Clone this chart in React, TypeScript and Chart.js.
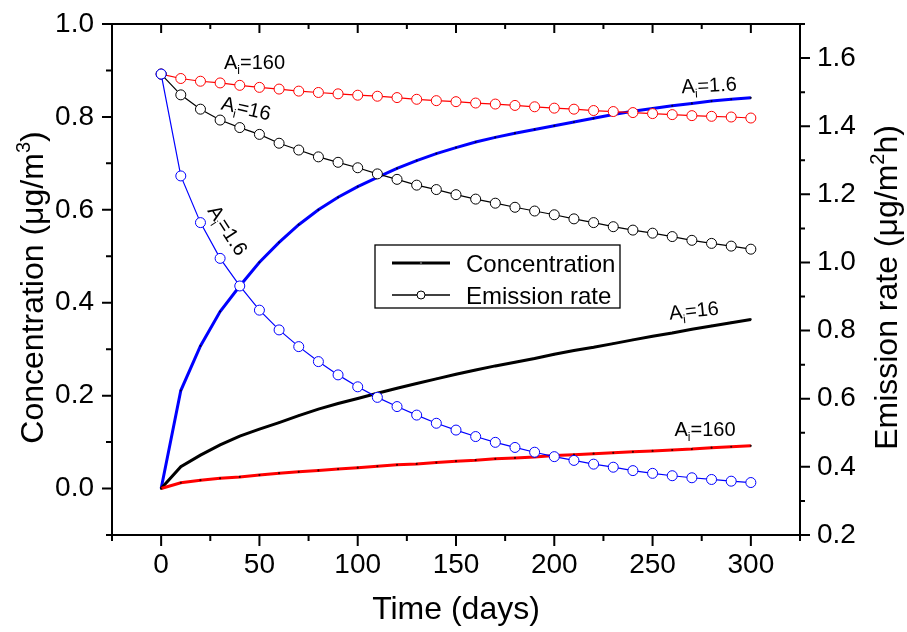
import React, { useEffect, useRef } from 'react';
import { Chart, registerables } from 'chart.js';

Chart.register(...registerables);

const FONT = '"Liberation Sans", Arial, Helvetica, sans-serif';

// ---------- data ----------
const days = [0, 10, 20, 30, 40, 50, 60, 70, 80, 90, 100, 110, 120, 130, 140, 150, 160, 170, 180, 190, 200, 210, 220, 230, 240, 250, 260, 270, 280, 290, 300];

// Concentration (µg/m3), left axis
const concA1_6 = [0, 0.211, 0.307, 0.381, 0.436, 0.487, 0.530, 0.568, 0.600, 0.627, 0.650, 0.670, 0.689, 0.706, 0.721, 0.734, 0.746, 0.756, 0.765, 0.773, 0.781, 0.789, 0.797, 0.805, 0.812, 0.818, 0.824, 0.829, 0.834, 0.838, 0.841];
const concA16 = [0, 0.047, 0.072, 0.094, 0.113, 0.128, 0.142, 0.157, 0.171, 0.183, 0.194, 0.205, 0.216, 0.226, 0.236, 0.246, 0.255, 0.264, 0.272, 0.280, 0.289, 0.297, 0.304, 0.312, 0.320, 0.328, 0.335, 0.343, 0.350, 0.357, 0.364];
const concA160 = [0, 0.0125, 0.018, 0.022, 0.025, 0.029, 0.033, 0.036, 0.039, 0.042, 0.045, 0.048, 0.051, 0.053, 0.056, 0.059, 0.061, 0.064, 0.066, 0.068, 0.071, 0.073, 0.075, 0.077, 0.079, 0.081, 0.083, 0.085, 0.088, 0.090, 0.092];

// Emission rate (µg/m2h), right axis
const emisA1_6 = [1.553, 1.254, 1.117, 1.012, 0.931, 0.860, 0.802, 0.753, 0.709, 0.670, 0.635, 0.604, 0.577, 0.552, 0.528, 0.508, 0.489, 0.472, 0.457, 0.443, 0.430, 0.419, 0.408, 0.399, 0.389, 0.381, 0.374, 0.368, 0.363, 0.358, 0.354];
const emisA16 = [1.553, 1.492, 1.450, 1.418, 1.396, 1.376, 1.350, 1.330, 1.310, 1.294, 1.278, 1.260, 1.244, 1.227, 1.214, 1.199, 1.186, 1.174, 1.162, 1.151, 1.140, 1.128, 1.117, 1.105, 1.095, 1.086, 1.076, 1.065, 1.056, 1.048, 1.039];
const emisA160 = [1.553, 1.540, 1.532, 1.527, 1.520, 1.514, 1.509, 1.503, 1.499, 1.495, 1.491, 1.488, 1.484, 1.479, 1.475, 1.472, 1.468, 1.465, 1.461, 1.457, 1.453, 1.450, 1.446, 1.443, 1.440, 1.437, 1.434, 1.431, 1.429, 1.427, 1.424];

// axis ranges / tick labels
const xRange = [-25, 325];
const xLabels = [0, 50, 100, 150, 200, 250, 300];
const yRange = [-0.1, 1.0];
const yLabels = ['0.0', '0.2', '0.4', '0.6', '0.8', '1.0'];
const y2Range = [0.2, 1.7];
const y2Labels = ['0.2', '0.4', '0.6', '0.8', '1.0', '1.2', '1.4', '1.6'];

// curve annotations: text after "A_i", anchor in data units
const annotations = [
  { text: '=160', axis: 'y2', day: 47.5, level: 1.587, angle: 0 },
  { text: '=16', axis: 'y2', day: 43.3, level: 1.453, angle: 13 },
  { text: '=1.6', axis: 'y2', day: 34.0, level: 1.095, angle: 57 },
  { text: '=1.6', axis: 'y', day: 278.7, level: 0.869, angle: -3 },
  { text: '=16', axis: 'y', day: 271.0, level: 0.384, angle: -6 },
  { text: '=160', axis: 'y', day: 276.7, level: 0.129, angle: 0 },
];

const pts = (arr: number[]) => days.map((d, i) => ({ x: d, y: arr[i] }));

type Seg = { t: string; size: number; dy: number };

function drawRich(ctx: CanvasRenderingContext2D, segs: Seg[], x: number, y: number, angleDeg: number, vShift: number) {
  ctx.save();
  ctx.translate(x, y);
  ctx.rotate((angleDeg * Math.PI) / 180);
  let total = 0;
  const widths = segs.map((s) => {
    ctx.font = `${s.size}px ${FONT}`;
    const w = ctx.measureText(s.t).width;
    total += w;
    return w;
  });
  let cx = -total / 2;
  ctx.textAlign = 'left';
  ctx.textBaseline = 'alphabetic';
  ctx.fillStyle = '#000';
  segs.forEach((s, i) => {
    ctx.font = `${s.size}px ${FONT}`;
    ctx.fillText(s.t, cx, s.dy + vShift);
    cx += widths[i];
  });
  ctx.restore();
}

const isMajorX = (v: number) => xLabels.includes(Math.round(v));
const yLabelOf = (v: number, labels: string[]) => {
  const s = (Math.round(v * 10) / 10).toFixed(1);
  return labels.includes(s) ? s : '';
};

const decor = {
  id: 'decor',
  afterDatasetsDraw(chart: any) {
    const { ctx, chartArea: a, scales } = chart;
    const xs = scales.x, ys = scales.y, y2s = scales.y2;
    ctx.save();
    ctx.strokeStyle = '#000';
    ctx.lineWidth = 2;
    ctx.strokeRect(a.left, a.top, a.right - a.left, a.bottom - a.top);
    ctx.beginPath();
    xs.ticks.forEach((t: any) => {
      const px = xs.getPixelForValue(t.value);
      const major = isMajorX(t.value);
      ctx.moveTo(px, a.bottom);
      ctx.lineTo(px, a.bottom + (major ? 11 : 6));
      ctx.moveTo(px, a.top);
      ctx.lineTo(px, a.top + (major ? 9 : 5));
    });
    ys.ticks.forEach((t: any) => {
      const py = ys.getPixelForValue(t.value);
      const major = yLabelOf(t.value, yLabels) !== '';
      ctx.moveTo(a.left, py);
      ctx.lineTo(a.left - (major ? 10 : 6), py);
    });
    y2s.ticks.forEach((t: any) => {
      const py = y2s.getPixelForValue(t.value);
      const major = yLabelOf(t.value, y2Labels) !== '';
      ctx.moveTo(a.right, py);
      ctx.lineTo(a.right + (major ? 10 : 5), py);
    });
    ctx.stroke();

    // axis titles
    const cy = (a.top + a.bottom) / 2;
    const cxm = (a.left + a.right) / 2;
    drawRich(ctx, [{ t: 'Time (days)', size: 32, dy: 0 }], cxm, 619, 0, 0);
    drawRich(
      ctx,
      [
        { t: 'Concentration (μg/m', size: 32, dy: 0 },
        { t: '3', size: 20, dy: -13 },
        { t: ')', size: 32, dy: 0 },
      ],
      43, cy + 8, -90, 0
    );
    drawRich(
      ctx,
      [
        { t: 'Emission rate (μg/m', size: 32, dy: 0 },
        { t: '2', size: 20, dy: -13 },
        { t: 'h)', size: 32, dy: 0 },
      ],
      897, cy + 8, -90, 0
    );

    // annotations
    annotations.forEach((an) => {
      const sc = an.axis === 'y' ? ys : y2s;
      const px = xs.getPixelForValue(an.day);
      const py = sc.getPixelForValue(an.level);
      drawRich(
        ctx,
        [
          { t: 'A', size: 20, dy: 0 },
          { t: 'i', size: 12, dy: 5 },
          { t: an.text, size: 20, dy: 0 },
        ],
        px, py, an.angle, 7
      );
    });

    // legend
    const lx = 375, ly = 245, lw = 245, lh = 63;
    ctx.fillStyle = '#fff';
    ctx.fillRect(lx, ly, lw, lh);
    ctx.lineWidth = 1.3;
    ctx.strokeStyle = '#000';
    ctx.strokeRect(lx, ly, lw, lh);
    const r1 = 263, r2 = 295;
    ctx.beginPath();
    ctx.lineWidth = 3;
    ctx.moveTo(392, r1);
    ctx.lineTo(450, r1);
    ctx.stroke();
    ctx.fillStyle = '#555';
    ctx.beginPath();
    ctx.arc(421, r1, 1.2, 0, Math.PI * 2);
    ctx.fill();
    ctx.beginPath();
    ctx.lineWidth = 1.3;
    ctx.moveTo(392, r2);
    ctx.lineTo(450, r2);
    ctx.stroke();
    ctx.beginPath();
    ctx.fillStyle = '#fff';
    ctx.arc(421, r2, 4, 0, Math.PI * 2);
    ctx.fill();
    ctx.lineWidth = 1;
    ctx.stroke();
    ctx.fillStyle = '#000';
    ctx.font = `24px ${FONT}`;
    ctx.textAlign = 'left';
    ctx.textBaseline = 'alphabetic';
    ctx.fillText('Concentration', 466, r1 + 9);
    ctx.fillText('Emission rate', 466, r2 + 9);
    ctx.restore();
  },
};

const emisStyle = (color: string, order: number) => ({
  borderColor: color,
  borderWidth: 1.2,
  pointRadius: 5,
  pointBorderWidth: 1,
  pointBorderColor: color,
  pointBackgroundColor: '#fff',
  pointStyle: 'circle',
  yAxisID: 'y2',
  order,
  tension: 0,
});
const concStyle = (color: string, order: number) => ({
  borderColor: color,
  borderWidth: 3,
  pointRadius: 1.1,
  pointBorderWidth: 0,
  pointBackgroundColor: 'rgba(0,0,0,0.75)',
  yAxisID: 'y',
  order,
  tension: 0,
});

const tickFont = { size: 28, family: FONT, lineHeight: 1.2 };

const fixV = (w: number) => (s: any) => {
  s.width = w;
  s.paddingTop = 0;
  s.paddingBottom = 0;
};

export default function App() {
  const ref = useRef<HTMLCanvasElement>(null);
  useEffect(() => {
    if (!ref.current) return;
    const chart = new Chart(ref.current, {
      type: 'line',
      data: {
        datasets: [
          { label: 'E 1.6', data: pts(emisA1_6), ...emisStyle('#0000ff', 0) },
          { label: 'E 16', data: pts(emisA16), ...emisStyle('#000000', 1) },
          { label: 'E 160', data: pts(emisA160), ...emisStyle('#ff0000', 2) },
          { label: 'C 160', data: pts(concA160), ...concStyle('#ff0000', 3) },
          { label: 'C 16', data: pts(concA16), ...concStyle('#000000', 4) },
          { label: 'C 1.6', data: pts(concA1_6), ...concStyle('#0000ff', 5) },
        ] as any,
      },
      options: {
        responsive: false,
        animation: false,
        events: [],
        layout: { padding: { top: 24, left: 0, right: 0, bottom: 0 } },
        plugins: { legend: { display: false }, tooltip: { enabled: false } },
        scales: {
          x: {
            type: 'linear',
            min: xRange[0],
            max: xRange[1],
            grid: { display: false, drawTicks: false },
            border: { display: false },
            ticks: {
              stepSize: 25,
              autoSkip: false,
              maxRotation: 0,
              padding: 13,
              color: '#000',
              font: tickFont,
              callback: (v: any) => (isMajorX(v) ? String(Math.round(v)) : ''),
            },
            afterFit: (s: any) => {
              s.height = 97;
              s.paddingLeft = 0;
              s.paddingRight = 0;
            },
          },
          y: {
            type: 'linear',
            position: 'left',
            min: yRange[0],
            max: yRange[1],
            grid: { display: false, drawTicks: false },
            border: { display: false },
            ticks: {
              stepSize: 0.1,
              autoSkip: false,
              padding: 18,
              color: '#000',
              font: tickFont,
              callback: (v: any) => yLabelOf(v, yLabels),
            },
            afterFit: fixV(112),
          },
          y2: {
            type: 'linear',
            position: 'right',
            min: y2Range[0],
            max: y2Range[1],
            grid: { display: false, drawTicks: false },
            border: { display: false },
            ticks: {
              stepSize: 0.1,
              autoSkip: false,
              padding: 17,
              color: '#000',
              font: tickFont,
              callback: (v: any) => yLabelOf(v, y2Labels),
            },
            afterFit: fixV(107),
          },
        },
      } as any,
      plugins: [decor],
    });
    return () => chart.destroy();
  }, []);
  return (
    <div style={{ position: 'fixed', left: 0, top: 0, width: 907, height: 632, background: '#fff' }}>
      <canvas ref={ref} width={907} height={632} style={{ display: 'block', width: 907, height: 632 }} />
    </div>
  );
}
